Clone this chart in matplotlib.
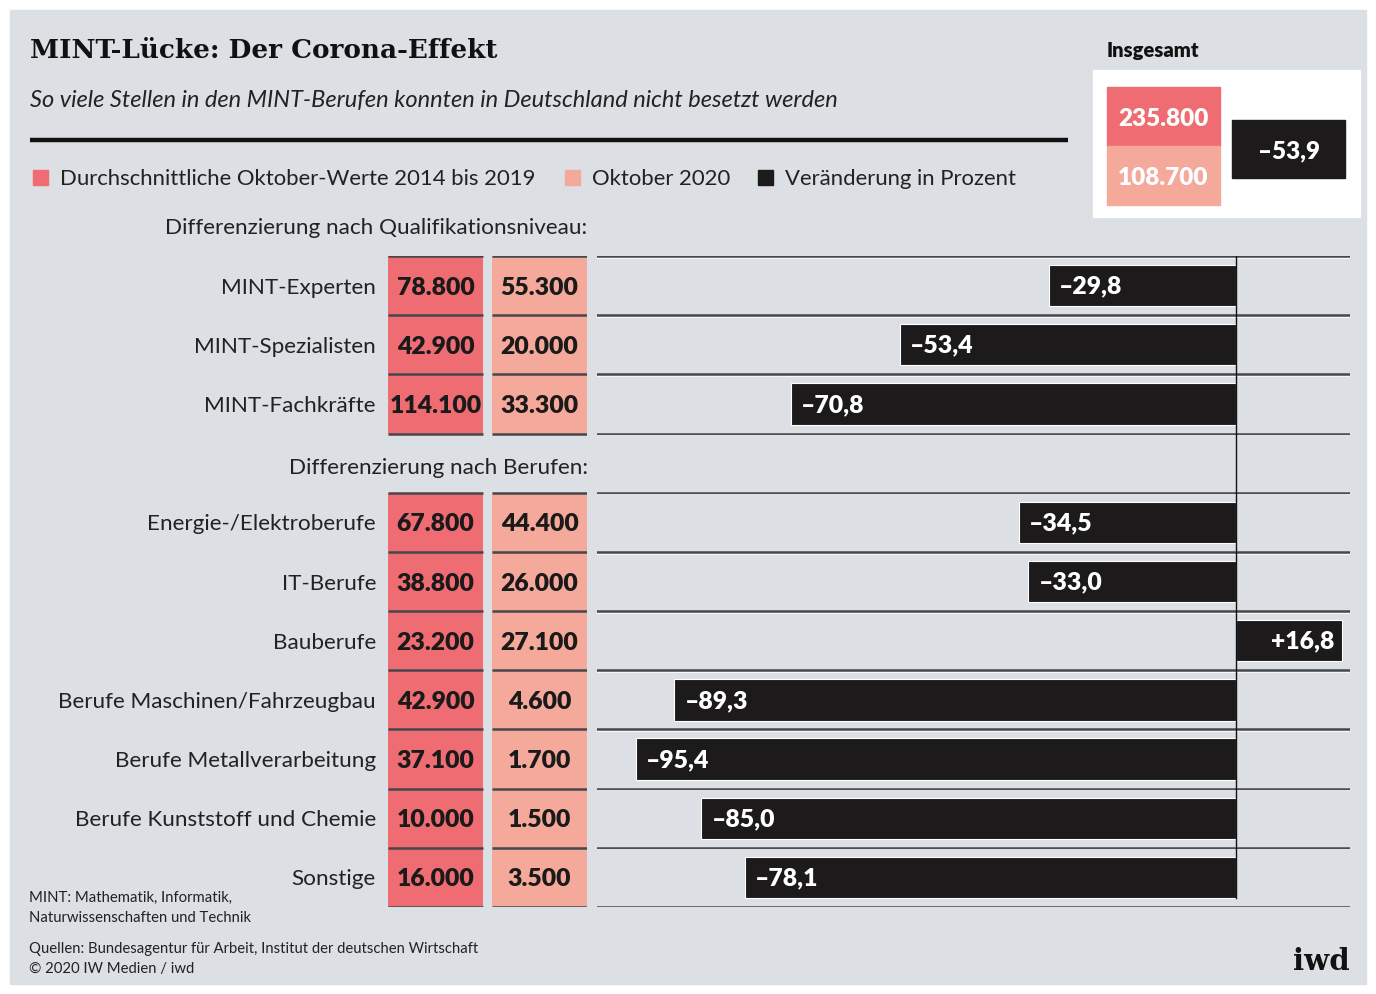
import matplotlib
matplotlib.use("Agg")
import matplotlib.pyplot as plt
from matplotlib.patches import Rectangle

# ---------------- data ----------------
cats_qual = ["MINT-Experten", "MINT-Spezialisten", "MINT-Fachkräfte"]
avg_qual = [78800, 42900, 114100]
oct_qual = [55300, 20000, 33300]
chg_qual = [-29.8, -53.4, -70.8]

cats_job = ["Energie-/Elektroberufe", "IT-Berufe", "Bauberufe",
            "Berufe Maschinen/Fahrzeugbau", "Berufe Metallverarbeitung",
            "Berufe Kunststoff und Chemie", "Sonstige"]
avg_job = [67800, 38800, 23200, 42900, 37100, 10000, 16000]
oct_job = [44400, 26000, 27100, 4600, 1700, 1500, 3500]
chg_job = [-34.5, -33.0, 16.8, -89.3, -95.4, -85.0, -78.1]

total_avg = 235800
total_oct = 108700
total_chg = -53.9

legend_labels = ["Durchschnittliche Oktober-Werte 2014 bis 2019", "Oktober 2020",
                 "Veränderung in Prozent"]
header_qual = "Differenzierung nach Qualifikationsniveau:"
header_job = "Differenzierung nach Berufen:"

# ---------------- style ----------------
BG = "#dcdfe3"
RED = "#ee6c72"
SALMON = "#f5a99b"
BLACK = "#1c1a1b"
LINE = "#45474b"
SANS = "Lato"
SERIF = "DejaVu Serif"
NUMW = "heavy"

W, H = 1376, 994
fig = plt.figure(figsize=(W / 100, H / 100), dpi=100)
fig.patch.set_facecolor("white")

ax0 = fig.add_axes([0, 0, 1, 1])
ax0.set_xlim(0, W)
ax0.set_ylim(H, 0)
ax0.axis("off")
ax0.add_patch(Rectangle((10, 10), W - 20, H - 20, color=BG, zorder=0))


def fmt_num(v):
    return f"{v:,}".replace(",", ".")


def fmt_pct(v):
    s = f"{v:+.1f}".replace(".", ",")
    return s.replace("-", "–")


# title & subtitle
ax0.text(30, 51, "MINT-Lücke: Der Corona-Effekt", family=SERIF, weight="bold",
         fontsize=18.9, va="center", ha="left", color="#111111")
ax0.text(30, 101, "So viele Stellen in den MINT-Berufen konnten in Deutschland nicht besetzt werden",
         family=SANS, style="italic", fontsize=17.0, va="center", ha="left", color="#222222")
ax0.plot([30, 1068], [140, 140], color="#111111", lw=3.2, solid_capstyle="butt")

# legend
leg_x = [33, 565, 758]
leg_cols = [RED, SALMON, BLACK]
for x, c, lab in zip(leg_x, leg_cols, legend_labels):
    ax0.add_patch(Rectangle((x, 170), 15, 15, color=c))
    ax0.text(x + 27, 179, lab, family=SANS, fontsize=15.9, va="center", ha="left",
             color="#222222")

# Insgesamt box
ax0.text(1107, 51, "Insgesamt", family=SANS, weight=NUMW, fontsize=14.5,
         va="center", ha="left", color="#111111")
ax0.add_patch(Rectangle((1093, 70), 267, 147, color="white"))
ax0.add_patch(Rectangle((1107, 87), 113, 59, color=RED))
ax0.add_patch(Rectangle((1107, 146), 113, 59, color=SALMON))
ax0.add_patch(Rectangle((1232, 120), 113, 58, color=BLACK))
ax0.text(1163.5, 119, fmt_num(total_avg), family=SANS, weight=NUMW, fontsize=17.5,
         color="white", ha="center", va="center")
ax0.text(1163.5, 178, fmt_num(total_oct), family=SANS, weight=NUMW, fontsize=17.5,
         color="white", ha="center", va="center")
ax0.text(1288.5, 151, fmt_pct(total_chg), family=SANS, weight=NUMW, fontsize=17.5,
         color="white", ha="center", va="center")

# footnotes
foot = dict(family=SANS, fontsize=10.7, va="center", ha="left", color="#222222")
ax0.text(29, 898, "MINT: Mathematik, Informatik,", **foot)
ax0.text(29, 918, "Naturwissenschaften und Technik", **foot)
ax0.text(29, 949, "Quellen: Bundesagentur für Arbeit, Institut der deutschen Wirtschaft", **foot)
ax0.text(29, 969, "© 2020 IW Medien / iwd", **foot)
ax0.text(1350, 962, "iwd", family=SERIF, weight="bold", fontsize=21,
         va="center", ha="right", color="#111111")

# ---------------- rows ----------------
slots = [0, 1, 2] + [4, 5, 6, 7, 8, 9, 10]
labels = cats_qual + cats_job
avgs = avg_qual + avg_job
octs = oct_qual + oct_job
chgs = chg_qual + chg_job
NSLOT = 11
y_top, y_bot = 256, 907
DY = 0.035  # small optical text nudge (slot units)


def frac_rect(x0, x1):
    return [x0 / W, 1 - y_bot / H, (x1 - x0) / W, (y_bot - y_top) / H]


# cell axes (two value columns)
axc = fig.add_axes(frac_rect(388, 587))
axc.set_xlim(0, 199)
axc.set_ylim(NSLOT, 0)
axc.axis("off")
ycent = [s + 0.5 for s in slots]
axc.barh(ycent, [95] * len(slots), left=0, height=1.0, color=RED, zorder=1)
axc.barh(ycent, [95] * len(slots), left=104, height=1.0, color=SALMON, zorder=1)
for y, lab, a, o in zip(ycent, labels, avgs, octs):
    axc.text(-12, y + DY, lab, family=SANS, fontsize=16.2, ha="right", va="center",
             color="#222222", clip_on=False)
    axc.text(47.5, y + DY, fmt_num(a), family=SANS, weight=NUMW, fontsize=17.8,
             ha="center", va="center", color="#1a1a1a")
    axc.text(151.5, y + DY, fmt_num(o), family=SANS, weight=NUMW, fontsize=17.8,
             ha="center", va="center", color="#1a1a1a")
bounds = [0, 1, 2, 3, 4, 5, 6, 7, 8, 9, 10, 11]
for b in bounds:
    for x0, x1 in [(0, 95), (104, 199)]:
        axc.plot([x0, x1], [b, b], color=LINE, lw=1.8, zorder=3, solid_capstyle="butt")

ax0.text(587, 228, header_qual, family=SANS, fontsize=16.2, ha="right", va="center",
         color="#222222")
ax0.text(588, 468, header_job, family=SANS, fontsize=16.2, ha="right", va="center",
         color="#222222")

# bar axes (change in percent)
axb = fig.add_axes(frac_rect(597, 1350))
axb.set_xlim(-101.6, 18.13)
axb.set_ylim(NSLOT, 0)
axb.axis("off")
for b in bounds:
    axb.axhline(b, color=LINE, lw=1.8, zorder=1)
    axb.axhline(b + 0.028, color="white", lw=0.8, alpha=0.8, zorder=1)
axb.barh(ycent, chgs, height=0.7, color=BLACK, edgecolor="white", linewidth=0.8, zorder=3)
axb.plot([0, 0], [0, 10.85], color="#111111", lw=1.0, zorder=4)
for y, c in zip(ycent, chgs):
    if c < 0:
        axb.text(c + 1.6, y + DY * 0.5, fmt_pct(c), family=SANS, weight=NUMW, fontsize=17.8,
                 ha="left", va="center", color="white", zorder=5)
    else:
        axb.text(c - 1.2, y + DY * 0.5, fmt_pct(c), family=SANS, weight=NUMW, fontsize=17.8,
                 ha="right", va="center", color="white", zorder=5)

fig.savefig("out.png", dpi=100, facecolor=fig.get_facecolor())
